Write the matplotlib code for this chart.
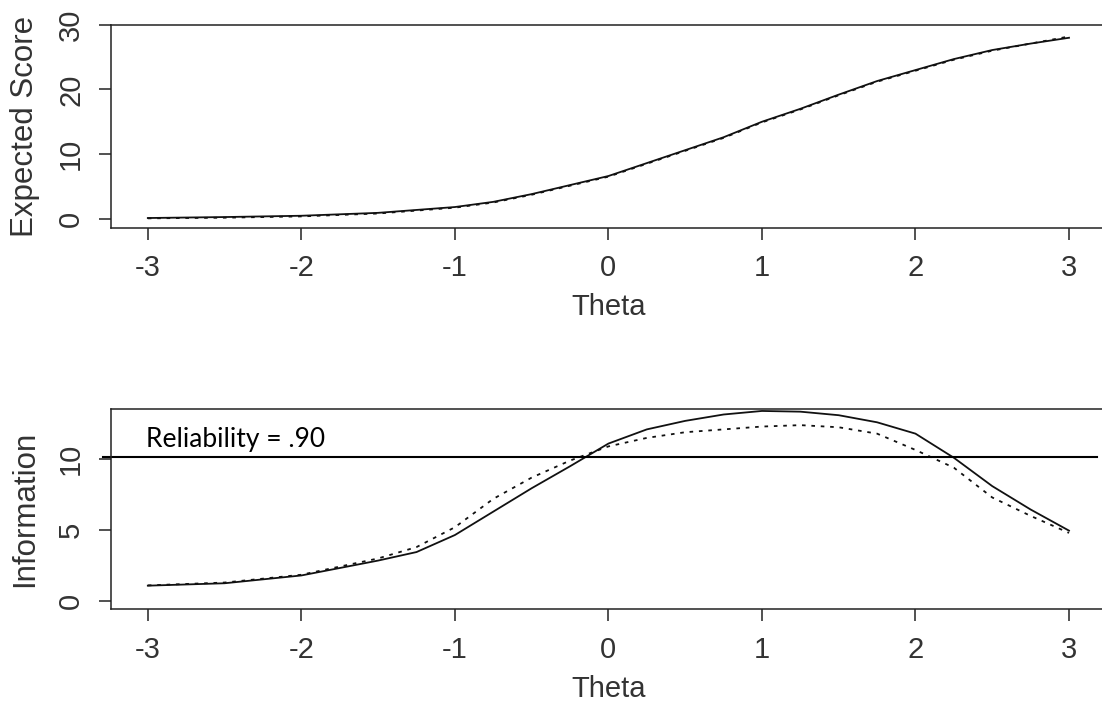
import matplotlib
matplotlib.use("Agg")
import matplotlib.pyplot as plt

# theta grid
theta_top = [-3, -2.5, -2, -1.5, -1, -0.75, -0.5, -0.25, 0, 0.25, 0.5, 0.75,
             1, 1.25, 1.5, 1.75, 2, 2.25, 2.5, 2.75, 3]
score_solid = [0.1, 0.25, 0.45, 0.9, 1.8, 2.6, 3.8, 5.2, 6.6, 8.6, 10.6, 12.6,
               15.0, 17.0, 19.2, 21.3, 23.0, 24.7, 26.1, 27.1, 28.0]
score_dotted = [0.05, 0.15, 0.35, 0.8, 1.7, 2.5, 3.7, 5.1, 6.5, 8.5, 10.5, 12.5,
                14.9, 16.9, 19.1, 21.2, 22.9, 24.6, 26.0, 27.1, 28.2]

theta_bot = [-3, -2.5, -2, -1.5, -1.25, -1, -0.75, -0.5, -0.25, 0, 0.25, 0.5,
             0.75, 1, 1.25, 1.5, 1.75, 2, 2.25, 2.5, 2.75, 3]
info_solid = [1.08, 1.25, 1.8, 2.85, 3.45, 4.65, 6.3, 7.95, 9.5, 11.1, 12.1, 12.7,
              13.15, 13.4, 13.35, 13.1, 12.6, 11.8, 10.1, 8.1, 6.45, 4.96]
info_dotted = [1.1, 1.3, 1.85, 3.0, 3.8, 5.2, 7.2, 8.7, 9.9, 10.9, 11.5, 11.9,
               12.1, 12.3, 12.4, 12.25, 11.8, 10.65, 9.4, 7.3, 6.0, 4.8]

x_ticks = [-3, -2, -1, 0, 1, 2, 3]
reliability_level = 10.18
reliability_text = "Reliability = .90"

plt.rcParams['font.family'] = ['Liberation Sans', 'DejaVu Sans']
FS = 21

fig = plt.figure(figsize=(11.02, 7.19), dpi=100)
ax1 = fig.add_axes([0.1007, 0.6833, 0.9028, 0.2826])
ax2 = fig.add_axes([0.1007, 0.1526, 0.9028, 0.2782])


def r_style(ax, yticks):
    for sp in ax.spines.values():
        sp.set_linewidth(1.1)
        sp.set_color('#222222')
    ax.set_xticks(x_ticks)
    ax.set_xticklabels([str(t) for t in x_ticks])
    ax.set_yticks(yticks)
    ax.set_yticklabels([str(t) for t in yticks], rotation=90, va='center')
    ax.tick_params(direction='out', length=8.6, width=1.1, color='#222222',
                   labelsize=FS, labelcolor='#333333')
    ax.tick_params(axis='x', pad=10.5)
    ax.tick_params(axis='y', pad=10)
    ax.set_xlim(-3.24, 3.24)
    ax.set_xlabel("Theta", fontsize=FS, color='#333333', labelpad=8)


dots = dict(color='#111111', lw=1.3, linestyle=(0, (2.0, 3.2)))
solid = dict(color='#111111', lw=1.3)

ax1.plot(theta_top, score_solid, **solid)
ax1.plot(theta_top, score_dotted, **dots)
r_style(ax1, [0, 10, 20, 30])
ax1.set_ylim(-1.4, 30.05)
ax1.set_ylabel("Expected Score", fontsize=22.5, color='#333333', labelpad=12)

ax2.plot(theta_bot, info_solid, **solid)
ax2.plot(theta_bot, info_dotted, **dots)
r_style(ax2, [0, 5, 10])
ax2.set_ylim(-0.585, 13.52)
ax2.set_ylabel("Information", fontsize=22.5, color='#333333', labelpad=12)

# annotation line and label drawn over the panel
ax2.plot([-3.295, 3.183], [reliability_level, reliability_level], color='black',
         lw=1.5, clip_on=False)
ax2.text(-3.015, 10.88, reliability_text, fontsize=19, family=['Lato', 'DejaVu Sans'],
         color='black', va='baseline', ha='left')

fig.savefig("out.png", dpi=100)
